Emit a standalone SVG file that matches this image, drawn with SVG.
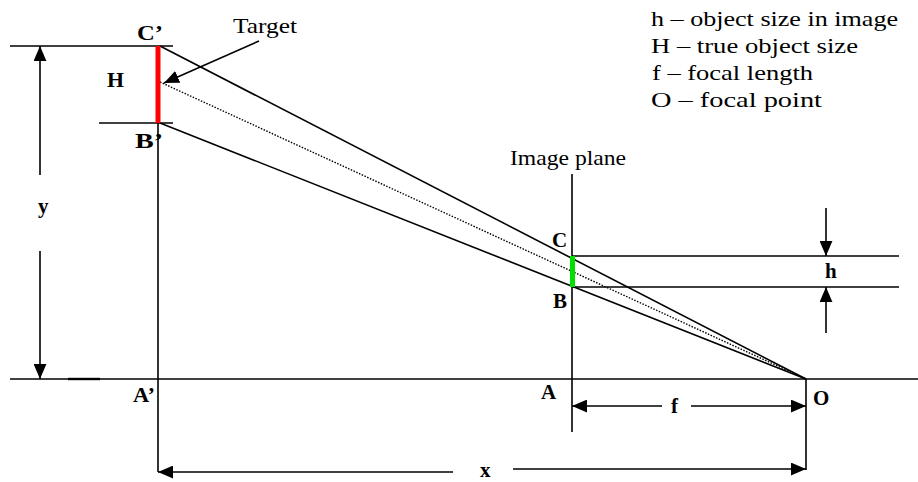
<svg xmlns="http://www.w3.org/2000/svg" width="918" height="482" viewBox="0 0 918 482">
<style>
.ln{stroke:#000;stroke-width:1.6;fill:none}
.dot{stroke:#000;stroke-width:1.4;fill:none;stroke-dasharray:1.5 1.5}
.lbl{font-family:"Liberation Serif","Times New Roman",serif;font-weight:bold;font-size:21px;fill:#000}
.txt{font-family:"Liberation Serif","Times New Roman",serif;font-size:22px;fill:#000}
</style>
<defs>
<marker id="ah" viewBox="0 0 14 12" refX="14" refY="6" markerWidth="15" markerHeight="13" markerUnits="userSpaceOnUse" orient="auto">
<path d="M0,0 L14,6 L0,12 z" fill="#000"/>
</marker>
</defs>
<rect width="918" height="482" fill="#fff"/>

<g id="connectors">
<line class="ln" x1="10" y1="379" x2="918" y2="379"/>
<line x1="68" y1="379" x2="100" y2="379" stroke="#000" stroke-width="2.4"/>
<line class="ln" x1="10" y1="46" x2="173" y2="46"/>
<line class="ln" x1="99" y1="123" x2="173" y2="123"/>
<line class="ln" x1="158" y1="123" x2="158" y2="472"/>
<line class="ln" x1="572" y1="174" x2="572" y2="432"/>
<line class="ln" x1="572" y1="256" x2="899" y2="256"/>
<line class="ln" x1="572" y1="287" x2="899" y2="287"/>
<line class="ln" x1="806" y1="379" x2="806" y2="470"/>
<line class="ln" x1="160" y1="46" x2="806" y2="379"/>
<line class="ln" x1="160" y1="123" x2="806" y2="379"/>
<line class="dot" x1="160" y1="82" x2="806" y2="379"/>
<line class="ln" x1="40" y1="175" x2="40" y2="46" marker-end="url(#ah)"/>
<line class="ln" x1="40" y1="251" x2="40" y2="379" marker-end="url(#ah)"/>
<line class="ln" x1="826" y1="208" x2="826" y2="256" marker-end="url(#ah)"/>
<line class="ln" x1="826" y1="333" x2="826" y2="287" marker-end="url(#ah)"/>
<line class="ln" x1="662" y1="406" x2="572" y2="406" marker-end="url(#ah)"/>
<line class="ln" x1="691" y1="406" x2="806" y2="406" marker-end="url(#ah)"/>
<line class="ln" x1="453" y1="472" x2="158" y2="472" marker-end="url(#ah)"/>
<line class="ln" x1="513" y1="469" x2="806" y2="469" marker-end="url(#ah)"/>
<line class="ln" x1="259" y1="41" x2="164" y2="83" marker-end="url(#ah)"/>
</g>

<g id="target">
<line x1="158" y1="46" x2="158" y2="123" stroke="#ff0000" stroke-width="5"/>
<text class="txt" x="233" y="33" textLength="64" lengthAdjust="spacingAndGlyphs">Target</text>
<text class="lbl" x="137" y="40" textLength="26" lengthAdjust="spacingAndGlyphs">C’</text>
<text class="lbl" x="107" y="87" textLength="17" lengthAdjust="spacingAndGlyphs">H</text>
<text class="lbl" x="135" y="148" textLength="28" lengthAdjust="spacingAndGlyphs">B’</text>
</g>

<g id="image-plane">
<line x1="572.5" y1="256" x2="572.5" y2="287" stroke="#00e000" stroke-width="5"/>
<text class="txt" x="510" y="165" font-size="21" textLength="116" lengthAdjust="spacingAndGlyphs">Image plane</text>
<text class="lbl" x="552" y="247">C</text>
<text class="lbl" x="553" y="308">B</text>
<text class="lbl" x="541" y="399">A</text>
</g>

<g id="focal-point">
<text class="lbl" x="813" y="405">O</text>
</g>

<g id="ground">
<text class="lbl" x="133" y="402" textLength="22" lengthAdjust="spacingAndGlyphs">A’</text>
</g>

<g id="dim-labels">
<text class="lbl" x="38" y="213">y</text>
<text class="lbl" x="825" y="278">h</text>
<text class="lbl" x="671" y="413">f</text>
<text class="lbl" x="480" y="477">x</text>
</g>

<g id="legend">
<text class="txt" x="651" y="26" textLength="247" lengthAdjust="spacingAndGlyphs">h – object size in image</text>
<text class="txt" x="651" y="53" textLength="207" lengthAdjust="spacingAndGlyphs">H – true object size</text>
<text class="txt" x="652" y="80" textLength="161" lengthAdjust="spacingAndGlyphs">f – focal length</text>
<text class="txt" x="651" y="107" textLength="171" lengthAdjust="spacingAndGlyphs">O – focal point</text>
</g>
</svg>
